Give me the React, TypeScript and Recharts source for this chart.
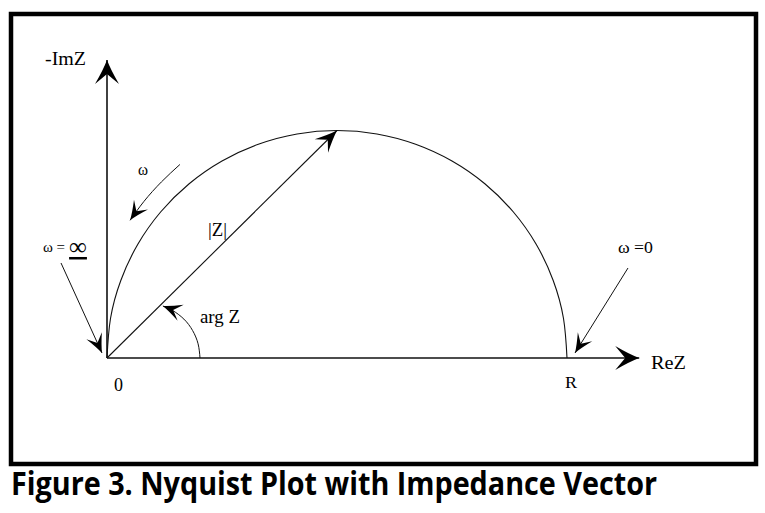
import React from 'react';
import { ComposedChart, Line, Scatter, XAxis, YAxis } from 'recharts';

// ---- data (Re Z, -Im Z) in arbitrary impedance units, R = 100 ----
const AXIS_RE_X = [0, 115.7];
const AXIS_IM_X = [0, 0];
const AXIS_RE_Y = [0, 0];
const AXIS_IM_Y = [0, 65.5];

const SEMI_RE = [0, 0.76, 3.02, 6.7, 11.7, 17.86, 25.0, 32.9, 41.32, 50, 58.68, 67.1, 75.0, 82.14, 88.3, 93.3, 96.98, 99.24, 100];
const SEMI_IM = [0, 8.68, 17.1, 25.0, 32.14, 38.3, 43.3, 46.98, 49.24, 50, 49.24, 46.98, 43.3, 38.3, 32.14, 25.0, 17.1, 8.68, 0];

const VECTOR_RE = [0, 50];
const VECTOR_IM = [0, 50];

const OMEGA_RE = [15.85, 11.83, 8.04, 5.02];
const OMEGA_IM = [42.53, 38.7, 34.42, 30.26];

const ARG_RE = [20.22, 19.8, 18.61, 16.72, 14.24, 12.15];
const ARG_IM = [0, 3.12, 6.04, 8.55, 10.46, 11.43];

const INF_RE = [-10.0, -1.09];
const INF_IM = [20.88, 1.1];

const ZERO_RE = [113.26, 101.74];
const ZERO_IM = [19.78, 1.1];

const LABEL_TEXT = ['-ImZ', 'ω', 'ω = ∞', '|Z|', 'arg Z', '0', 'R', 'ReZ', 'ω =0'];
const LABEL_RE = [-13.48, 6.74, -13.91, 21.96, 20.22, 1.52, 99.57, 118.26, 111.09];
const LABEL_IM = [64.4, 40.22, 23.3, 26.81, 7.69, -7.25, -6.59, -2.42, 23.08];

const CAPTION = 'Figure 3. Nyquist Plot with Impedance Vector';

const zip = (re: number[], im: number[]) => re.map((x, i) => ({ x, y: im[i] }));

const labels = LABEL_TEXT.map((text, i) => ({ x: LABEL_RE[i], y: LABEL_IM[i], text }));

const LABEL_STYLE: Record<string, { size: number; len: number }> = {
  '-ImZ': { size: 18, len: 41 },
  'ω': { size: 16, len: 10 },
  'ω = ∞': { size: 15, len: 0 },
  '|Z|': { size: 18, len: 19 },
  'arg Z': { size: 18, len: 40 },
  '0': { size: 18, len: 9 },
  'R': { size: 16, len: 12 },
  'ReZ': { size: 18, len: 35 },
  'ω =0': { size: 17, len: 35 },
};

const SERIF = "'Liberation Serif', 'Times New Roman', serif";

const LabelShape = (props: any) => {
  const { cx, cy, payload } = props;
  const st = LABEL_STYLE[payload.text] || { size: 18, len: 0 };
  if (payload.text.includes('∞')) {
    const [left, right] = payload.text.split('∞');
    return (
      <text x={cx} y={cy} fontFamily={SERIF} fontSize={st.size} fill="#000">
        <tspan>{left.trimEnd()}</tspan>
        <tspan dx={4} dy={3} fontSize={25} textDecoration="underline">∞{right}</tspan>
      </text>
    );
  }
  return (
    <text
      x={cx}
      y={cy}
      fontFamily={SERIF}
      fontSize={st.size}
      fill="#000"
      textLength={st.len || undefined}
      lengthAdjust="spacingAndGlyphs"
    >
      {payload.text}
    </text>
  );
};

const arrowPath = (L: number, W: number, N: number) =>
  `M0,0 Q${-L * 0.42},${-W * 0.32} ${-L},${-W} L${-N},0 L${-L},${W} Q${-L * 0.42},${W * 0.32} 0,0 Z`;

const Marker = ({ id, L, W, N }: { id: string; L: number; W: number; N: number }) => (
  <marker
    id={id}
    viewBox={`${-L - 2} ${-W - 2} ${L + 4} ${2 * W + 4}`}
    refX={0}
    refY={0}
    markerWidth={L + 4}
    markerHeight={2 * W + 4}
    markerUnits="userSpaceOnUse"
    orient="auto"
  >
    <path d={arrowPath(L, W, N)} fill="#000" />
  </marker>
);

export default function App() {
  return (
    <div style={{ position: 'absolute', left: 0, top: 0, width: 765, height: 513, background: '#fff' }}>
      <svg width={0} height={0} style={{ position: 'absolute' }}>
        <defs>
          <Marker id="arrBig" L={24} W={12} N={14} />
          <Marker id="arrVec" L={22} W={9.5} N={13} />
          <Marker id="arrSmall" L={19} W={8.5} N={11} />
        </defs>
      </svg>
      <ComposedChart width={765} height={513} margin={{ top: 39.5, right: 14, bottom: 64, left: 15 }}>
        <XAxis type="number" dataKey="x" domain={[-20, 140]} hide />
        <YAxis type="number" dataKey="y" domain={[-20, 70]} hide />
        <Line data={zip(AXIS_RE_X, AXIS_RE_Y)} dataKey="y" type="linear" stroke="#111" strokeWidth={1.6}
          dot={false} activeDot={false} isAnimationActive={false} markerEnd="url(#arrBig)" />
        <Line data={zip(AXIS_IM_X, AXIS_IM_Y)} dataKey="y" type="linear" stroke="#111" strokeWidth={1.6}
          dot={false} activeDot={false} isAnimationActive={false} markerEnd="url(#arrBig)" />
        <Line data={zip(SEMI_RE, SEMI_IM)} dataKey="y" type="natural" stroke="#111" strokeWidth={1.1}
          dot={false} activeDot={false} isAnimationActive={false} />
        <Line data={zip(VECTOR_RE, VECTOR_IM)} dataKey="y" type="linear" stroke="#111" strokeWidth={1.1}
          dot={false} activeDot={false} isAnimationActive={false} markerEnd="url(#arrVec)" />
        <Line data={zip(OMEGA_RE, OMEGA_IM)} dataKey="y" type="natural" stroke="#111" strokeWidth={1}
          dot={false} activeDot={false} isAnimationActive={false} markerEnd="url(#arrSmall)" />
        <Line data={zip(ARG_RE, ARG_IM)} dataKey="y" type="natural" stroke="#111" strokeWidth={1}
          dot={false} activeDot={false} isAnimationActive={false} markerEnd="url(#arrSmall)" />
        <Line data={zip(INF_RE, INF_IM)} dataKey="y" type="linear" stroke="#111" strokeWidth={1}
          dot={false} activeDot={false} isAnimationActive={false} markerEnd="url(#arrSmall)" />
        <Line data={zip(ZERO_RE, ZERO_IM)} dataKey="y" type="linear" stroke="#111" strokeWidth={1}
          dot={false} activeDot={false} isAnimationActive={false} markerEnd="url(#arrSmall)" />
        <Scatter data={labels} dataKey="y" shape={LabelShape} isAnimationActive={false} />
      </ComposedChart>
      <svg width={765} height={513} style={{ position: 'absolute', left: 0, top: 0, pointerEvents: 'none' }}>
        <rect x={11} y={14} width={745} height={450} fill="none" stroke="#000" strokeWidth={4.5} />
        <text
          x={11}
          y={495}
          fontFamily="'Open Sans', 'Noto Sans', sans-serif"
          fontWeight={700}
          fontSize={32}
          fill="#000"
          textLength={646}
          lengthAdjust="spacingAndGlyphs"
        >
          {CAPTION}
        </text>
      </svg>
    </div>
  );
}
